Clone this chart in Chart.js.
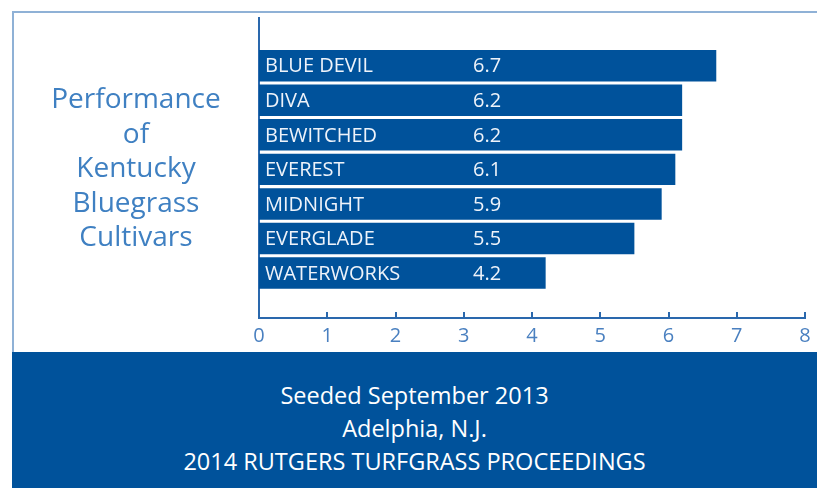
<!DOCTYPE html>
<html lang="en">
<head>
    <meta charset="UTF-8">
    <title>Kentucky Bluegrass Cultivars</title>
    <script src="https://cdn.jsdelivr.net/npm/chart.js"></script>
    <style>
        body {
            margin: 0;
            padding: 0;
            background: #ffffff;
            font-family: "Open Sans", Arial, sans-serif;
        }
        .page {
            position: relative;
            width: 817px;
            height: 488px;
            overflow: hidden;
        }
        .frame {
            position: absolute;
            left: 12px;
            top: 11px;
            width: 805px;
            height: 341px;
            border-top: 2px solid #8fb1d6;
            border-left: 2px solid #8fb1d6;
            box-sizing: border-box;
        }
        .chart-box {
            position: absolute;
            left: 0;
            top: 0;
            width: 817px;
            height: 356px;
        }
        .side-title {
            position: absolute;
            left: 36px;
            top: 80px;
            width: 200px;
            text-align: center;
            color: #3f80c2;
            font-size: 28px;
            line-height: 34.5px;
        }
        .band {
            position: absolute;
            left: 12px;
            top: 352px;
            width: 805px;
            height: 136px;
            background: #00529b;
            color: #ffffff;
            text-align: center;
            font-size: 23.5px;
            line-height: 33px;
            padding-top: 27px;
            box-sizing: border-box;
        }
    </style>
</head>
<body>
<div class="page">
    <div class="frame"></div>
    <div class="chart-box"><canvas id="cultivarChart"></canvas></div>
    <div class="side-title">Performance<br>of<br>Kentucky<br>Bluegrass<br>Cultivars</div>
    <div class="band">
        Seeded September 2013<br>
        Adelphia, N.J.<br>
        2014 RUTGERS TURFGRASS PROCEEDINGS
    </div>
</div>

<script>
    const cultivars = ['BLUE DEVIL', 'DIVA', 'BEWITCHED', 'EVEREST', 'MIDNIGHT', 'EVERGLADE', 'WATERWORKS'];
    const scores = [6.7, 6.2, 6.2, 6.1, 5.9, 5.5, 4.2];
    const xTicks = [0, 1, 2, 3, 4, 5, 6, 7, 8];

    const axisColor = '#2a68ad';

    // names and values written inside each bar
    const barLabels = {
        id: 'barLabels',
        afterDatasetsDraw(chart) {
            const ctx = chart.ctx;
            const x = chart.scales.x;
            const meta = chart.getDatasetMeta(0);
            ctx.save();
            ctx.font = '20px "Open Sans"';
            ctx.fillStyle = '#eef3fa';
            ctx.textBaseline = 'middle';
            ctx.textAlign = 'left';
            meta.data.forEach((bar, i) => {
                ctx.fillText(cultivars[i], x.getPixelForValue(0) + 6, bar.y + 1);
                ctx.fillText(scores[i].toFixed(1), x.getPixelForValue(0) + 214, bar.y + 1);
            });
            ctx.restore();
        }
    };

    // small tick marks pointing up from the x axis
    const upTicks = {
        id: 'upTicks',
        afterDraw(chart) {
            const ctx = chart.ctx;
            const x = chart.scales.x;
            const base = chart.chartArea.bottom;
            ctx.save();
            ctx.strokeStyle = axisColor;
            ctx.lineWidth = 2;
            xTicks.forEach(t => {
                const px = Math.round(x.getPixelForValue(t));
                ctx.beginPath();
                ctx.moveTo(px, base);
                ctx.lineTo(px, base - 6);
                ctx.stroke();
            });
            ctx.restore();
        }
    };

    new Chart(document.getElementById('cultivarChart'), {
        type: 'bar',
        data: {
            datasets: [{
                data: cultivars.map((c, i) => ({ x: scores[i], y: i })),
                backgroundColor: '#00529b',
                borderWidth: 0,
                barPercentage: 0.91,
                categoryPercentage: 1
            }]
        },
        options: {
            indexAxis: 'y',
            responsive: true,
            maintainAspectRatio: false,
            animation: false,
            layout: {
                padding: { left: 259, right: 12, top: 18, bottom: 2 }
            },
            plugins: {
                legend: { display: false },
                tooltip: { enabled: false }
            },
            scales: {
                y: {
                    type: 'linear',
                    reverse: true,
                    offset: false,
                    min: -1.38,
                    max: 7.3,
                    ticks: { display: false },
                    grid: { display: false, drawTicks: false, offset: false },
                    border: { color: axisColor, width: 2 }
                },
                x: {
                    min: xTicks[0],
                    max: xTicks[xTicks.length - 1],
                    ticks: {
                        stepSize: 1,
                        color: '#4a80c0',
                        padding: 6,
                        font: { family: 'Open Sans', size: 20 }
                    },
                    grid: { display: false, drawTicks: false },
                    border: { color: axisColor, width: 2 }
                }
            }
        },
        plugins: [barLabels, upTicks]
    });
</script>
</body>
</html>
